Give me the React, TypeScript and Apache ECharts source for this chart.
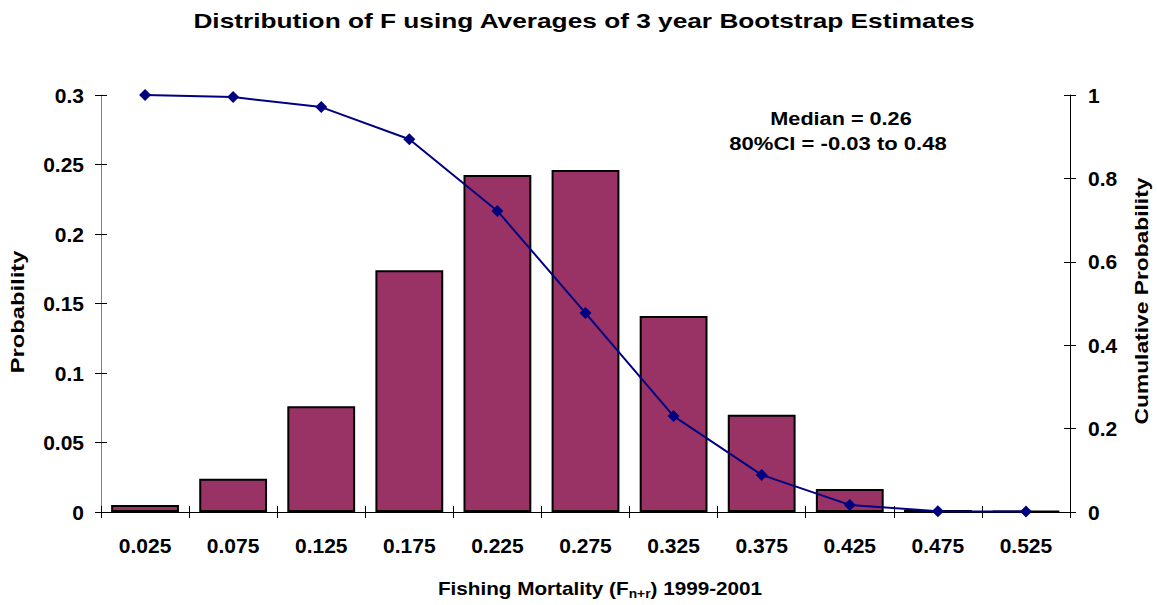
import React, { useEffect, useRef } from "react";
import * as echarts from "echarts";

const categories = ["0.025", "0.075", "0.125", "0.175", "0.225", "0.275", "0.325", "0.375", "0.425", "0.475", "0.525"];
const probability = [0.005, 0.024, 0.076, 0.174, 0.2425, 0.246, 0.141, 0.07, 0.0165, 0.0015, 0.0007];
const cumulative = [1.0, 0.995, 0.971, 0.894, 0.722, 0.477, 0.23, 0.089, 0.017, 0.002, 0.001];
const titleText = "Distribution of F using Averages of 3 year Bootstrap Estimates";
const noteLines = ["Median = 0.26", "80%CI = -0.03 to 0.48"];
const xName = "{a|Fishing Mortality (F}{s|n+r}{a|) 1999-2001}";
const yLeftName = "Probability";
const yRightName = "Cumulative Probability";

const FONT = "Liberation Sans, Arial, sans-serif";

export default function App() {
  const ref = useRef<HTMLDivElement>(null);
  useEffect(() => {
    if (!ref.current) return;
    const chart = echarts.init(ref.current, null, { renderer: "svg" });
    const lbl = { fontFamily: FONT, fontWeight: "bold" as const, fontSize: 21, color: "#000" };
    const txt = (x: number, y: number, text: string, size: number, sx: number, rot = 0, extra: any = {}) => ({
      type: "text",
      x,
      y,
      rotation: rot,
      scaleX: sx,
      style: {
        text,
        font: `bold ${size}px ${FONT}`,
        fill: "#000",
        textAlign: "center",
        textVerticalAlign: "middle",
        ...extra,
      },
    });
    chart.setOption({
      animation: false,
      backgroundColor: "#fff",
      textStyle: { fontFamily: FONT },
      graphic: [
        txt(584, 20, titleText, 21, 1.25),
        txt(841, 118, noteLines[0], 19, 1.14),
        txt(838, 143, noteLines[1], 19, 1.16),
        txt(18, 312, yLeftName, 19, 1.25, Math.PI / 2),
        txt(1141, 301, yRightName, 19, 1.2, Math.PI / 2),
        txt(600, 589, xName, 18, 1.15, 0, {
          rich: {
            a: { fontFamily: FONT, fontWeight: "bold", fontSize: 18, color: "#000", lineHeight: 22 },
            s: { fontFamily: FONT, fontWeight: "bold", fontSize: 12, color: "#000", verticalAlign: "bottom", padding: [9, 0, 0, 0] },
          },
        }),
      ],
      grid: { left: 101, right: 87, top: 95, bottom: 93, containLabel: false, outerBoundsMode: "none" },
      xAxis: [
        {
          type: "category",
          data: categories,
          boundaryGap: true,
          axisLine: { lineStyle: { color: "#000", width: 1 } },
          axisTick: { show: true, length: 6, lineStyle: { color: "#000" } },
          axisLabel: { ...lbl, margin: 23 },
        },
        {
          type: "category",
          data: categories,
          position: "bottom",
          axisLine: { show: false },
          axisTick: { show: true, inside: true, length: 6, lineStyle: { color: "#000" } },
          axisLabel: { show: false },
        },
      ],
      yAxis: [
        {
          type: "value",
          min: 0,
          max: 0.3,
          interval: 0.05,
          position: "left",
          axisLine: { show: true, lineStyle: { color: "#808080", width: 1 } },
          axisTick: { show: true, length: 6, lineStyle: { color: "#000" } },
          axisLabel: { ...lbl, margin: 17 },
          splitLine: { show: false },
        },
        {
          type: "value",
          min: 0,
          max: 1,
          interval: 0.2,
          position: "right",
          axisLine: { show: true, lineStyle: { color: "#000", width: 1 } },
          axisTick: { show: true, length: 6, lineStyle: { color: "#000" } },
          axisLabel: { ...lbl, margin: 18 },
          splitLine: { show: false },
        },
        {
          type: "value",
          min: 0,
          max: 0.3,
          interval: 0.05,
          position: "left",
          axisLine: { show: false },
          axisTick: { show: true, inside: true, length: 6, lineStyle: { color: "#000" } },
          axisLabel: { show: false },
          splitLine: { show: false },
        },
        {
          type: "value",
          min: 0,
          max: 1,
          interval: 0.2,
          position: "right",
          axisLine: { show: false },
          axisTick: { show: true, inside: true, length: 6, lineStyle: { color: "#000" } },
          axisLabel: { show: false },
          splitLine: { show: false },
        },
      ],
      series: [
        {
          type: "bar",
          data: probability,
          xAxisIndex: 0,
          yAxisIndex: 0,
          barCategoryGap: "23%",
          itemStyle: { color: "#993366", borderColor: "#000", borderWidth: 2 },
        },
        {
          type: "line",
          data: cumulative,
          xAxisIndex: 0,
          yAxisIndex: 1,
          symbol: "diamond",
          symbolSize: 12,
          lineStyle: { color: "#000080", width: 2 },
          itemStyle: { color: "#000080" },
          z: 5,
        },
      ],
    });
    return () => chart.dispose();
  }, []);
  return <div ref={ref} style={{ position: "absolute", left: 0, top: 0, width: 1157, height: 605 }} />;
}
